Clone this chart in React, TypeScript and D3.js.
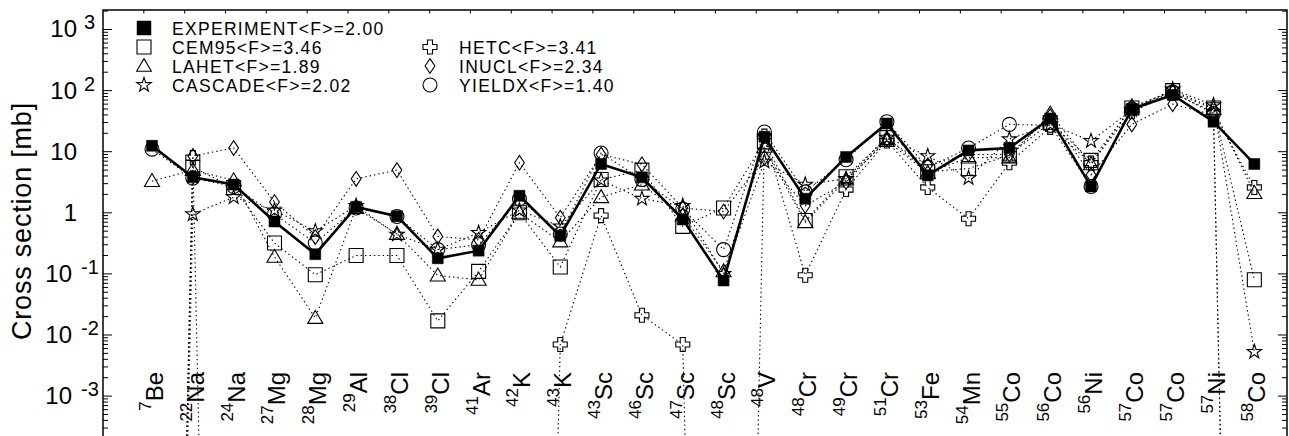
import React from "react";
import * as d3 from "d3";

const massNumbers = ["7","22","24","27","28","29","38","39","41","42","43","43","46","47","48","48","48","49","51","53","54","55","56","56","57","57","57","58"];
const elements = ["Be","Na","Na","Mg","Mg","Al","Cl","Cl","Ar","K","K","Sc","Sc","Sc","Sc","V","Cr","Cr","Cr","Fe","Mn","Co","Co","Ni","Co","Co","Ni","Co"];

const experiment = [12.5, 3.8, 2.9, 0.72, 0.21, 1.25, 0.88, 0.18, 0.24, 1.9, 0.42, 6.3, 3.8, 0.78, 0.078, 17.5, 1.7, 8.2, 29, 4.1, 10.5, 11.5, 35, 2.7, 50, 85, 31, 6.3];
const cem95 = [0, 5.5, 2.6, 0.32, 0.097, 0.2, 0.2, 0.017, 0.11, 1.0, 0.13, 3.5, 5.0, 0.6, 1.2, 14.5, 0.75, 3.9, 17, 4.7, 5.3, 8.8, 30, 7.2, 52, 100, 52, 0.08];
const lahet = [3.3, 5.0, 3.4, 0.19, 0.019, 1.2, 0.45, 0.094, 0.08, 1.0, 0.34, 1.8, 2.9, 0.9, 0.11, 12, 0.7, 3.5, 15, 4.5, 8, 8, 42, 6.2, 55, 95, 50, 2.1];
const cascade = [0, 0.95, 1.8, 1.1, 0.5, 1.3, 0.44, 0.25, 0.47, 1.1, 0.6, 3.4, 1.7, 1.3, 0.1, 6.9, 2.9, 3.6, 17, 8.5, 3.7, 16, 28, 15, 48, 105, 58, 0.0053];
const hetc = [0, 8, 0, 0, 0, 0, 0, 0, 0, 0, 0.007, 0.9, 0.021, 0.007, 0, 18, 0.095, 2.4, 15, 2.6, 0.8, 6.6, 25, 6.5, 45, 90, 45, 2.6];
const inucl = [0, 8.5, 11.5, 1.5, 0.4, 3.6, 5.0, 0.41, 0.36, 6.6, 0.83, 9, 6.2, 1.2, 1.05, 8, 1.3, 3.2, 16, 6, 9, 9, 38, 4.2, 28, 60, 40, 0];
const yieldx = [11, 3.7, 2.7, 0.95, 0.32, 1.2, 0.87, 0.25, 0.3, 1.7, 0.45, 9.5, 3.5, 1.15, 0.25, 21, 2.2, 7.4, 31, 5.5, 11.5, 28, 27, 2.7, 50, 95, 42, 0];

const seriesNames = ["EXPERIMENT", "CEM95", "LAHET", "CASCADE", "HETC", "INUCL", "YIELDX"];
const seriesF = ["2.00", "3.46", "1.89", "2.02", "3.41", "2.34", "1.40"];
const yTickExponents = [-3, -2, -1, 0, 1, 2, 3];

const FONT = "'Liberation Sans', Arial, Helvetica, sans-serif";
const W = 1289;
const H = 436;
const X0 = 103;
const X1 = 1287;
const Y_TOP = 10;
const Y_BOT = 457.2;
const ZERO_FLOOR = 1e-30;

const x = d3.scaleLinear().domain([0, 29]).range([X0, X1]);
const y = d3.scaleLog().domain([1e-4, Math.pow(10, 3.3191)]).range([Y_BOT, Y_TOP]);
const px = (i: number) => x(i + 1.2);
const py = (v: number) => y(v > 0 ? v : ZERO_FLOOR);

type Kind = "fsquare" | "square" | "triangle" | "star" | "cross" | "diamond" | "circle";

function markerPath(kind: Kind, s: number): string {
  if (kind === "fsquare" || kind === "square") {
    return `M${-s},${-s}H${s}V${s}H${-s}Z`;
  }
  if (kind === "triangle") {
    const h = s * 1.8;
    return `M0,${-s * 1.05}L${s * 1.05},${h - s * 1.05}L${-s * 1.05},${h - s * 1.05}Z`;
  }
  if (kind === "diamond") {
    return `M0,${-s * 1.05}L${s * 0.7},0L0,${s * 1.05}L${-s * 0.7},0Z`;
  }
  if (kind === "cross") {
    const a = s * 0.36;
    const b = s;
    return `M${-a},${-b}H${a}V${-a}H${b}V${a}H${a}V${b}H${-a}V${a}H${-b}V${-a}H${-a}Z`;
  }
  if (kind === "star") {
    const R = s * 1.08;
    const r = s * 0.42;
    const pts: string[] = [];
    for (let k = 0; k < 10; k++) {
      const ang = -Math.PI / 2 + (k * Math.PI) / 5;
      const rad = k % 2 === 0 ? R : r;
      pts.push(`${(rad * Math.cos(ang)).toFixed(2)},${(rad * Math.sin(ang)).toFixed(2)}`);
    }
    return "M" + pts.join("L") + "Z";
  }
  return "";
}

function Marker({ kind, cx, cy, s }: { kind: Kind; cx: number; cy: number; s: number }) {
  if (kind === "circle") {
    return <circle cx={cx} cy={cy} r={s} fill="none" stroke="#000" strokeWidth={1.1} />;
  }
  return (
    <path
      d={markerPath(kind, s)}
      transform={`translate(${cx},${cy})`}
      fill={kind === "fsquare" ? "#000" : "none"}
      stroke="#000"
      strokeWidth={kind === "fsquare" ? 0.5 : 1.1}
      strokeLinejoin="miter"
    />
  );
}

const series: { name: string; values: number[]; kind: Kind; size: number }[] = [
  { name: seriesNames[1], values: cem95, kind: "square", size: 7 },
  { name: seriesNames[2], values: lahet, kind: "triangle", size: 7.2 },
  { name: seriesNames[3], values: cascade, kind: "star", size: 7 },
  { name: seriesNames[4], values: hetc, kind: "cross", size: 7 },
  { name: seriesNames[5], values: inucl, kind: "diamond", size: 7 },
  { name: seriesNames[6], values: yieldx, kind: "circle", size: 7 },
];

export default function App() {
  const line = d3
    .line<number>()
    .x((_, i) => px(i))
    .y((v) => py(v));

  const minorTicks: number[] = [];
  for (let e = -4; e <= 3; e++) {
    for (let m = 1; m <= 9; m++) {
      const v = m * Math.pow(10, e);
      const yy = y(v);
      if (yy >= Y_TOP && yy <= H + 2) minorTicks.push(v);
    }
  }

  const legend = [
    { kind: "fsquare" as Kind, label: `${seriesNames[0]}<F>=${seriesF[0]}`, col: 0, row: 0 },
    { kind: "square" as Kind, label: `${seriesNames[1]}<F>=${seriesF[1]}`, col: 0, row: 1 },
    { kind: "triangle" as Kind, label: `${seriesNames[2]}<F>=${seriesF[2]}`, col: 0, row: 2 },
    { kind: "star" as Kind, label: `${seriesNames[3]}<F>=${seriesF[3]}`, col: 0, row: 3 },
    { kind: "cross" as Kind, label: `${seriesNames[4]}<F>=${seriesF[4]}`, col: 1, row: 1 },
    { kind: "diamond" as Kind, label: `${seriesNames[5]}<F>=${seriesF[5]}`, col: 1, row: 2 },
    { kind: "circle" as Kind, label: `${seriesNames[6]}<F>=${seriesF[6]}`, col: 1, row: 3 },
  ];
  const legMarkerX = [144, 430];
  const legTextX = [172, 459];
  const legBase = (r: number) => 35 + r * 19;

  return (
    <svg
      width={W}
      height={H}
      style={{ position: "absolute", left: 0, top: 0, background: "#fff" }}
      fontFamily={FONT}
    >
      <defs>
        <clipPath id="plotClip">
          <rect x={X0} y={Y_TOP} width={X1 - X0} height={Y_BOT - Y_TOP} />
        </clipPath>
      </defs>
      <rect x={0} y={0} width={W} height={H} fill="#fff" />

      {/* data lines */}
      <g clipPath="url(#plotClip)">
        {series.map((s) => (
          <path
            key={"l" + s.name}
            d={line(s.values) || ""}
            fill="none"
            stroke="#000"
            strokeWidth={1.1}
            strokeDasharray="1.4,3"
          />
        ))}
        <path d={line(experiment) || ""} fill="none" stroke="#000" strokeWidth={2.6} strokeLinejoin="miter" />
        {series.map((s) =>
          s.values.map((v, i) =>
            v > 0 ? <Marker key={s.name + i} kind={s.kind} cx={px(i)} cy={py(v)} s={s.size} /> : null
          )
        )}
        {experiment.map((v, i) => (
          <Marker key={"e" + i} kind="fsquare" cx={px(i)} cy={py(v)} s={5.5} />
        ))}
      </g>

      {/* frame */}
      <rect x={X0} y={Y_TOP} width={X1 - X0} height={Y_BOT - Y_TOP} fill="none" stroke="#000" strokeWidth={1.5} />

      {/* top ticks */}
      {d3.range(1, 29).map((t) => (
        <line key={"tt" + t} x1={x(t)} x2={x(t)} y1={Y_TOP} y2={Y_TOP + 3.5} stroke="#000" strokeWidth={1} />
      ))}

      {/* y ticks left & right */}
      {minorTicks.map((v, k) => {
        const major = Math.abs(Math.log10(v) - Math.round(Math.log10(v))) < 1e-9;
        const len = major ? 9 : 5;
        return (
          <g key={"yt" + k}>
            <line x1={X0} x2={X0 + len} y1={y(v)} y2={y(v)} stroke="#000" strokeWidth={1} />
            <line x1={X1} x2={X1 - len} y1={y(v)} y2={y(v)} stroke="#000" strokeWidth={1} />
          </g>
        );
      })}

      {/* y tick labels */}
      {yTickExponents.map((e) => {
        const ty = y(Math.pow(10, e));
        if (e === 0) {
          return (
            <text key={"yl" + e} x={77} y={ty + 8} fontSize={24} textAnchor="end">1</text>
          );
        }
        if (e === 1) {
          return (
            <text key={"yl" + e} x={77} y={ty + 8} fontSize={24} textAnchor="end">10</text>
          );
        }
        return (
          <g key={"yl" + e}>
            <text x={e < 0 ? 72 : 77} y={ty + 8} fontSize={24} textAnchor="end">10</text>
            <text x={e < 0 ? 81 : 84} y={ty} fontSize={20}>{String(e)}</text>
          </g>
        );
      })}

      {/* y title */}
      <text
        transform={`translate(31,221) rotate(-90)`}
        textAnchor="middle"
        fontSize={27}
        letterSpacing={0.8}
      >
        Cross section [mb]
      </text>

      {/* category labels */}
      {elements.map((el, i) => (
        <text
          key={"cl" + i}
          transform={`translate(${px(i) + 11},372) rotate(-90)`}
          textAnchor="end"
        >
          <tspan fontSize={17} dy={-12}>{massNumbers[i]}</tspan>
          <tspan fontSize={24} dy={12}>{el}</tspan>
        </text>
      ))}

      {/* legend */}
      {legend.map((l) => (
        <g key={"lg" + l.label}>
          <Marker kind={l.kind} cx={legMarkerX[l.col]} cy={legBase(l.row) - 7} s={7} />
          <text x={legTextX[l.col]} y={legBase(l.row)} fontSize={17.5} letterSpacing={1.3}>
            {l.label}
          </text>
        </g>
      ))}
    </svg>
  );
}
